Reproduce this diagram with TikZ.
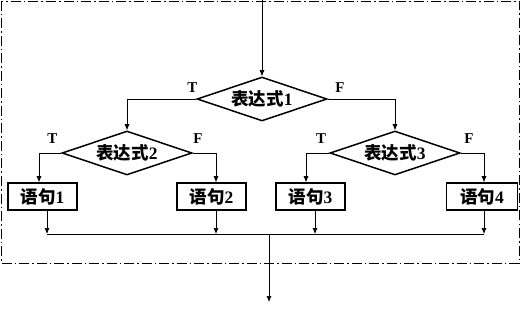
\documentclass[tikz,border=0pt]{standalone}
\usepackage{fontspec}
\setmainfont{Liberation Serif}
\newfontfamily\cjk{Noto Sans CJK SC}
\usetikzlibrary{arrows.meta,shapes.geometric}

\begin{document}
\begin{tikzpicture}[x=1pt,y=-1pt,>={Latex[length=6pt,width=5pt]},line width=0.7pt,
 font=\bfseries\fontsize{17.5}{20}\selectfont,
 cond/.style={diamond,draw,line width=1.5pt,minimum width=130pt,minimum height=44pt,inner sep=0pt,aspect=3},
 stmt/.style={draw,line width=1.5pt,minimum width=69pt,minimum height=27pt,inner sep=0pt},
 tf/.style={font=\bfseries\fontsize{15}{17}\selectfont,inner sep=0pt}]
\useasboundingbox (0,0) rectangle (525,310);
\draw[dash pattern=on 10pt off 3pt on 1.5pt off 3pt] (1,1) rectangle (519,263);
\coordinate (entry) at (262,0);
\node[cond] (expr1) at (262,99) {{\cjk 表达式}1};
\node[cond] (expr2) at (127,153) {{\cjk 表达式}2};
\node[cond] (expr3) at (395,153) {{\cjk 表达式}3};
\node[stmt] (stmt1) at (42.5,196.5) {{\cjk 语句}1};
\node[stmt] (stmt2) at (211.5,196.5) {{\cjk 语句}2};
\node[stmt] (stmt3) at (310.5,196.5) {{\cjk 语句}3};
\node[stmt,minimum width=71pt] (stmt4) at (482,196.5) {{\cjk 语句}4};
\coordinate (join) at (269,234);
\coordinate (exit) at (269,302);
% labels
\node[tf] (t1) at (192.5,88) {T};
\node[tf] (f1) at (340,88) {F};
\node[tf] (t2) at (52.5,139) {T};
\node[tf] (f2) at (198,139) {F};
\node[tf] (t3) at (321,139) {T};
\node[tf] (f3) at (469,139) {F};
% branches
\draw[->] (entry) -- (expr1.north);
\draw[->] (expr1.west) -| (expr2.north);
\draw[->] (expr1.east) -| (expr3.north);
\draw[->] (expr2.west) -| ([xshift=-3.5pt]stmt1.north);
\draw[->] (expr2.east) -| ([xshift=4.5pt]stmt2.north);
\draw[->] (expr3.west) -| ([xshift=-4.5pt]stmt3.north);
\draw[->] (expr3.east) -| ([xshift=2pt]stmt4.north);
% merge
\draw[->] ([xshift=4.5pt]stmt1.south) -- ([xshift=4.5pt]stmt1.south |- join);
\draw[->] ([xshift=4.5pt]stmt2.south) -- ([xshift=4.5pt]stmt2.south |- join);
\draw[->] ([xshift=4.5pt]stmt3.south) -- ([xshift=4.5pt]stmt3.south |- join);
\draw[->] ([xshift=2pt]stmt4.south) -- ([xshift=2pt]stmt4.south |- join);
\draw ([xshift=4.5pt]stmt1.south |- join) -- ([xshift=2pt]stmt4.south |- join);
\draw[->] (join) -- (exit);
\end{tikzpicture}
\end{document}
